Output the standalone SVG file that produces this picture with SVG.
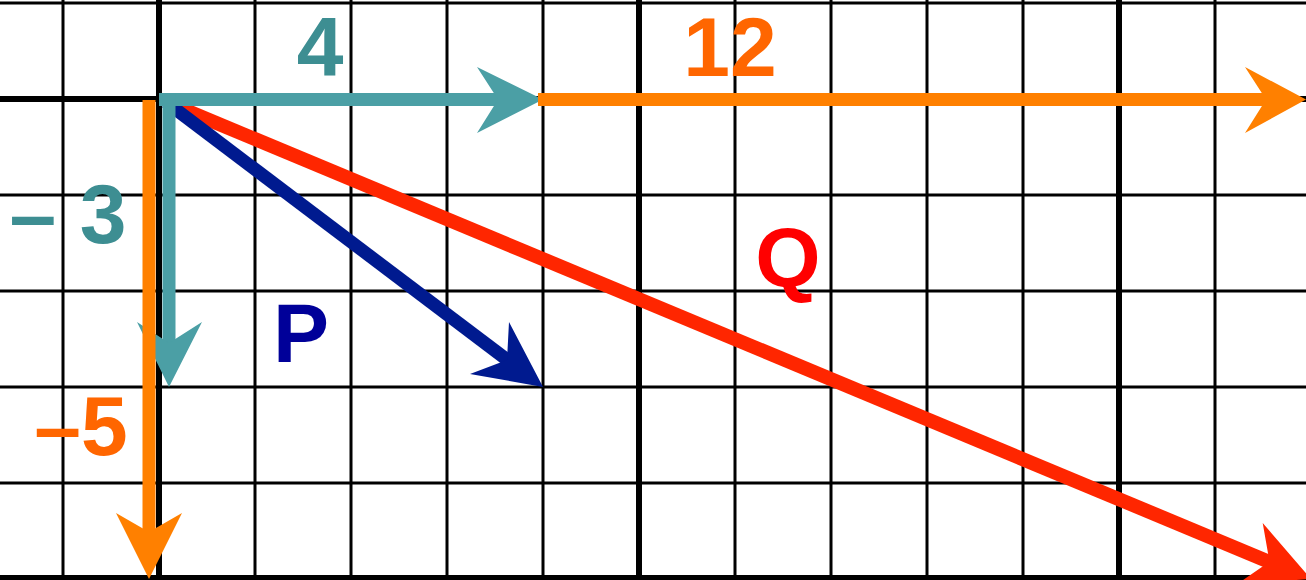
<svg xmlns="http://www.w3.org/2000/svg" width="1306" height="580" viewBox="0 0 1306 580">
<style>
.thin{stroke:#000;stroke-width:3}
.thick{stroke:#000;stroke-width:6}
.lbl{font-family:"Liberation Sans",Arial,sans-serif;font-weight:bold;font-size:84px;text-anchor:middle}
</style>
<rect width="1306" height="580" fill="#fff"/>
<g id="grid">
<line class="thin" x1="63" y1="0" x2="63" y2="580"/>
<line class="thick" x1="159" y1="0" x2="159" y2="580"/>
<line class="thin" x1="255" y1="0" x2="255" y2="580"/>
<line class="thin" x1="351" y1="0" x2="351" y2="580"/>
<line class="thin" x1="447" y1="0" x2="447" y2="580"/>
<line class="thin" x1="543" y1="0" x2="543" y2="580"/>
<line class="thick" x1="639" y1="0" x2="639" y2="580"/>
<line class="thin" x1="735" y1="0" x2="735" y2="580"/>
<line class="thin" x1="831" y1="0" x2="831" y2="580"/>
<line class="thin" x1="927" y1="0" x2="927" y2="580"/>
<line class="thin" x1="1023" y1="0" x2="1023" y2="580"/>
<line class="thick" x1="1119" y1="0" x2="1119" y2="580"/>
<line class="thin" x1="1215" y1="0" x2="1215" y2="580"/>
<line class="thin" x1="0" y1="3" x2="1306" y2="3"/>
<line class="thick" x1="0" y1="99" x2="1306" y2="99"/>
<line class="thin" x1="0" y1="195" x2="1306" y2="195"/>
<line class="thin" x1="0" y1="291" x2="1306" y2="291"/>
<line class="thin" x1="0" y1="387" x2="1306" y2="387"/>
<line class="thin" x1="0" y1="483" x2="1306" y2="483"/>
<line class="thick" x1="0" y1="578" x2="1306" y2="578"/>
</g>
<g id="connectors">
<g id="vecQ">
<line x1="166" y1="102" x2="1272" y2="563" stroke="#ff2600" stroke-width="14"/>
<polygon points="1311,579 1262.7,523.1 1269.5,561.7 1237.3,584" fill="#ff2600"/>
</g>
<g id="vecP">
<line x1="166" y1="102" x2="510" y2="362" stroke="#001a8f" stroke-width="13"/>
<polygon points="543,387 509,322 507,360 470,374" fill="#001a8f"/>
</g>
<g id="vec4">
<line x1="159" y1="99.5" x2="502" y2="99.5" stroke="#4b9fa5" stroke-width="13"/>
<polygon points="543,99.5 477,67 498,99.5 477,133" fill="#4b9fa5"/>
</g>
<g id="vecm3">
<line x1="169" y1="93" x2="169" y2="347" stroke="#4b9fa5" stroke-width="13"/>
<polygon points="169,387 137,322 169,343 202,322" fill="#4b9fa5"/>
</g>
<g id="vec12">
<line x1="538" y1="99.5" x2="1270" y2="99.5" stroke="#ff8000" stroke-width="13"/>
<polygon points="1306,99.5 1245,67 1266,99.5 1245,133" fill="#ff8000"/>
</g>
<g id="vecm5">
<line x1="149" y1="100" x2="149" y2="535" stroke="#ff8000" stroke-width="13"/>
<polygon points="149,579 116,513 149,532 182,513" fill="#ff8000"/>
</g>
</g>
<g id="labels">
<text id="t4" class="lbl" x="320" y="76" fill="#3d8e92">4</text>
<text id="t12" class="lbl" x="730" y="76" fill="#ff6600">12</text>
<text id="tm3" class="lbl" x="68" y="243" fill="#3d8e92">– 3</text>
<text id="tP" class="lbl" x="301" y="362" fill="#000099">P</text>
<text id="tQ" class="lbl" x="788" y="287" fill="#ff0000">Q</text>
<text id="tm5" class="lbl" x="81" y="455" fill="#ff6600">–5</text>
</g>
</svg>
